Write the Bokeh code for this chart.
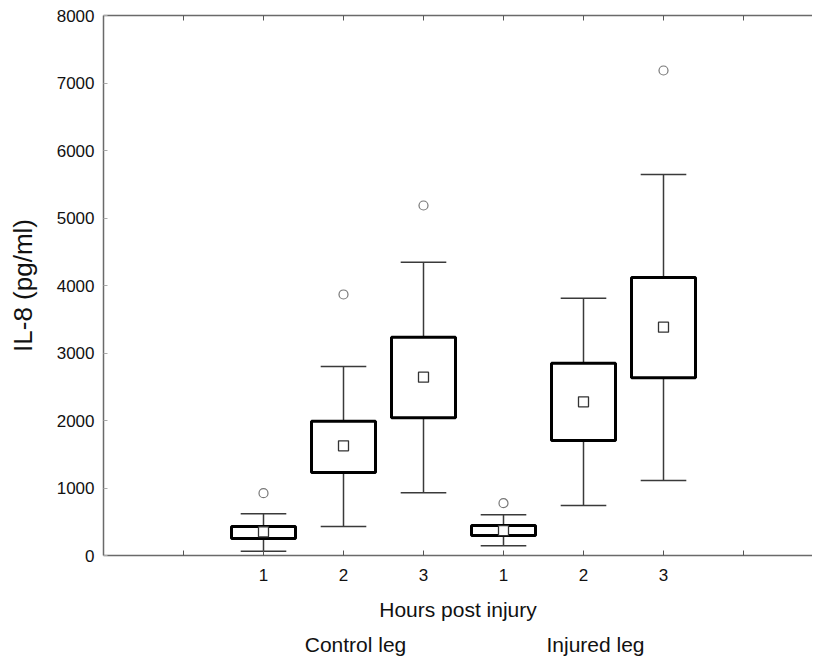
from bokeh.plotting import figure
from bokeh.models import FixedTicker, LinearAxis, Range1d, ColumnDataSource, BoxAnnotation
from bokeh.embed import file_html
from bokeh.resources import INLINE

# ---- data ----
tick_labels = ["1", "2", "3", "1", "2", "3"]
groups = ["Control leg", "Injured leg"]
positions = [2, 3, 4, 5, 6, 7]
whisker_low = [64, 430, 929, 143, 741, 1111]
q1 = [252, 1230, 2040, 296, 1704, 2632]
means = [351, 1625, 2642, 370, 2277, 3383]
q3 = [430, 1990, 3235, 444, 2850, 4119]
whisker_high = [617, 2800, 4346, 603, 3812, 5644]
outlier_pos = [2, 3, 4, 5, 7]
outlier_val = [923, 3867, 5185, 775, 7185]
group_pos = [3.15, 6.15]
x_max = 8.8625
y_max = 8000

FONT = "Liberation Sans"
box_w = 0.8
cap_w = 0.57

p = figure(frame_width=709, frame_height=540, output_backend="svg", toolbar_location=None,
           x_range=Range1d(0, x_max), y_range=Range1d(0, y_max),
           min_border_left=103, min_border_right=0, min_border_top=15, min_border_bottom=0)
p.outline_line_color = None
p.xgrid.visible = False
p.ygrid.visible = False
p.background_fill_color = "white"
p.border_fill_color = "white"

src = ColumnDataSource(dict(
    x=positions,
    left=[x - box_w / 2 for x in positions],
    right=[x + box_w / 2 for x in positions],
    cl=[x - cap_w / 2 for x in positions],
    cr=[x + cap_w / 2 for x in positions],
    lo=whisker_low, q1=q1, mean=means, q3=q3, hi=whisker_high,
))

wc = "#3a3a3a"
# whiskers
p.segment(x0="x", y0="q3", x1="x", y1="hi", source=src, line_color=wc, line_width=1.5)
p.segment(x0="x", y0="lo", x1="x", y1="q1", source=src, line_color=wc, line_width=1.5)
p.segment(x0="cl", y0="hi", x1="cr", y1="hi", source=src, line_color=wc, line_width=1.5)
p.segment(x0="cl", y0="lo", x1="cr", y1="lo", source=src, line_color=wc, line_width=1.5)
# boxes
p.quad(left="left", right="right", bottom="q1", top="q3", source=src,
       fill_color="white", line_color="black", line_width=3)
# means
p.scatter(x="x", y="mean", source=src, marker="square", size=10,
          fill_color="white", line_color="#333333", line_width=1.3)
# outliers
p.scatter(x=outlier_pos, y=outlier_val, marker="circle", size=9,
          fill_color=None, line_color="#777777", line_width=1.2)

axis_col = "#6a6a6a"

# hide the frame's right edge (the reference is open on the right)
p.add_layout(BoxAnnotation(left=x_max - 0.06, right=x_max + 0.5, bottom=y_max * 0.004,
                           top=y_max * 0.996, fill_color="white", fill_alpha=1.0,
                           line_color=None, level="overlay"))

# left axis
ya = p.yaxis[0]
ya.ticker = FixedTicker(ticks=list(range(0, 8001, 1000)))
ya.axis_label = "IL-8 (pg/ml)"
ya.axis_label_text_font = FONT
ya.axis_label_text_font_size = "26px"
ya.axis_label_text_font_style = "normal"
ya.axis_label_text_color = "#111111"
ya.axis_label_standoff = 16
ya.major_label_text_font = FONT
ya.major_label_text_font_size = "17px"
ya.major_label_text_color = "#111111"
ya.major_label_standoff = 9
ya.axis_line_color = axis_col
ya.axis_line_width = 1.5
ya.major_tick_in = 4
ya.major_tick_out = 0
ya.major_tick_line_color = "#aaaaaa"
ya.minor_tick_line_color = None

# bottom axis
xa = p.xaxis[0]
xa.ticker = FixedTicker(ticks=[1, 2, 3, 4, 5, 6, 7, 8])
overrides = {1: "", 8: ""}
for pos, lab in zip(positions, tick_labels):
    overrides[pos] = lab
xa.major_label_overrides = overrides
xa.axis_label = "Hours post injury"
xa.axis_label_text_font = FONT
xa.axis_label_text_font_size = "21px"
xa.axis_label_text_font_style = "normal"
xa.axis_label_text_color = "#111111"
xa.axis_label_standoff = 14
xa.major_label_text_font = FONT
xa.major_label_text_font_size = "17px"
xa.major_label_text_color = "#111111"
xa.major_label_standoff = 13
xa.axis_line_color = axis_col
xa.axis_line_width = 1.5
xa.major_tick_in = 5
xa.major_tick_out = 0
xa.major_tick_line_color = "#555555"
xa.minor_tick_line_color = None

# group label axis
ga = LinearAxis(ticker=FixedTicker(ticks=group_pos),
                major_label_overrides={gp: g for gp, g in zip(group_pos, groups)})
ga.axis_line_color = None
ga.major_tick_line_color = None
ga.minor_tick_line_color = None
ga.major_label_text_font = FONT
ga.major_label_text_font_size = "21px"
ga.major_label_text_color = "#111111"
ga.major_label_standoff = 3
p.add_layout(ga, "below")

# top axis (frame line with inner ticks)
ta = LinearAxis(ticker=FixedTicker(ticks=[1, 2, 3, 4, 5, 6, 7, 8]))
ta.major_label_text_font_size = "0px"
ta.major_label_text_color = None
ta.major_label_standoff = 0
ta.axis_line_color = axis_col
ta.axis_line_width = 1.5
ta.major_tick_in = 5
ta.major_tick_out = 0
ta.major_tick_line_color = "#555555"
ta.minor_tick_line_color = None
p.add_layout(ta, "above")

open("out.html", "w").write(file_html(p, INLINE))
